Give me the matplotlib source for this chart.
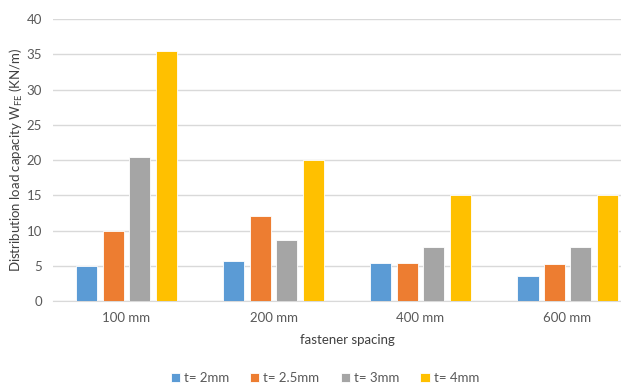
import matplotlib.pyplot as plt
import numpy as np

plt.rcParams['font.family'] = ['Lato', 'DejaVu Sans']

spacing = ['100 mm', '200 mm', '400 mm', '600 mm']
series = ['t= 2mm', 't= 2.5mm', 't= 3mm', 't= 4mm']
t_2 = [5.0, 5.7, 5.4, 3.5]
t_25 = [10.0, 12.0, 5.4, 5.2]
t_3 = [20.5, 8.7, 7.6, 7.6]
t_4 = [35.5, 20.0, 15.1, 15.1]
colors = ['#5B9BD5', '#ED7D31', '#A5A5A5', '#FFC000']

fig = plt.figure(figsize=(6.21, 3.88), dpi=100)
ax = fig.add_axes([0.0853, 0.224, 0.947, 0.727])

x = np.arange(len(spacing))
pitch = 0.18
width = 0.145
for i, (vals, lab, c) in enumerate(zip([t_2, t_25, t_3, t_4], series, colors)):
    ax.bar(x + (i - 1.5) * pitch, vals, width, color=c, label=lab,
           edgecolor='white', linewidth=0.6, zorder=3)

ax.set_xlim(-0.5, len(spacing) - 0.5)
ax.set_ylim(0, 40)
ax.set_yticks(range(0, 41, 5))
ax.set_xticks(x)
ax.set_xticklabels(spacing)
ax.yaxis.grid(True, color='#D9D9D9', linewidth=1, zorder=0)
ax.tick_params(length=0, labelsize=9.5, colors='#595959', pad=8)
for s in ['top', 'right', 'left']:
    ax.spines[s].set_visible(False)
ax.spines['bottom'].set_color('#D9D9D9')

ax.set_xlabel('fastener spacing', fontsize=9.5, color='#404040', labelpad=7)
ax.set_ylabel('Distribution load capacity W$_{\\mathregular{FE}}$ (KN/m)',
              fontsize=9.5, color='#404040')
ax.yaxis.set_label_coords(-0.047, 0.5)

fig.legend(loc='center', bbox_to_anchor=(0.523, 0.026), ncol=4, frameon=False,
           fontsize=9.5, handlelength=0.7, handleheight=0.7, handletextpad=0.3,
           columnspacing=1.6, labelcolor='#595959')

fig.savefig('out.png', dpi=100)
